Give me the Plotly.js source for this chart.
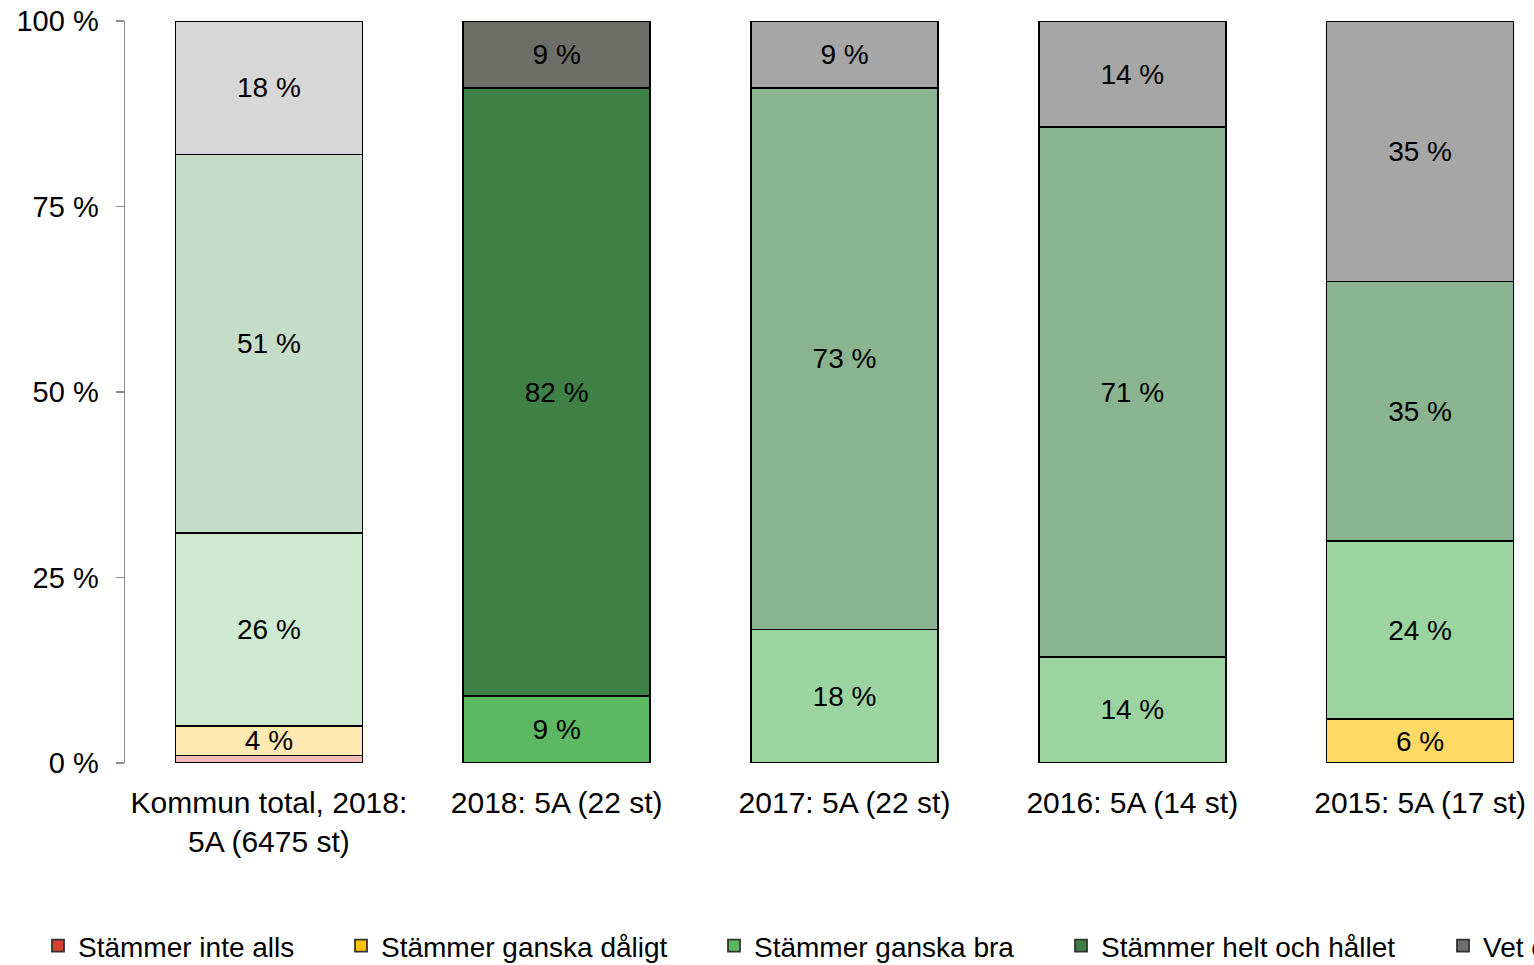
<!DOCTYPE html>
<html>
<head>
<meta charset="utf-8">
<script src="https://cdn.plot.ly/plotly-3.0.1.min.js"></script>
<style>
  html, body { margin: 0; padding: 0; overflow: hidden; background: #fff; }
  #chart { width: 1570px; height: 965px; }
</style>
</head>
<body>
<div id="chart"></div>
<script>
// Categories (x-axis)
const categories = ['Kommun total, 2018:<br>5A (6475 st)', '2018: 5A (22 st)', '2017: 5A (22 st)', '2016: 5A (14 st)', '2015: 5A (17 st)'];

// Series names
const seriesNames = ['Stämmer inte alls', 'Stämmer ganska dåligt', 'Stämmer ganska bra', 'Stämmer helt och hållet', 'Vet ej'];

// Series values (percent), null = no segment
const inteAlls     = [1,    null, null, null, null];
const ganskaDaligt = [4,    null, null, null, 5.9];
const ganskaBra    = [26,   9,    18,   14.3, 24];
const heltHallet   = [51,   82,   73,   71.4, 35];
const vetEj        = [18,   9,    9,    14.3, 35.1];

// Y-axis ticks
const yTickVals = [0, 25, 50, 75, 100];
const yTickText = ['0 %', '25 %', '50 %', '75 %', '100 %'];

// Per-bar segment colours
const inteAllsColors     = ['#f2bab6', '#f2bab6', '#f2bab6', '#f2bab6', '#f2bab6'];
const ganskaDaligtColors = ['#ffe9b3', '#ffd966', '#ffd966', '#ffd966', '#ffd966'];
const ganskaBraColors    = ['#cdead1', '#5cb962', '#9cd4a1', '#9cd4a1', '#9cd4a1'];
const heltHalletColors   = ['#c5dcc8', '#3e8046', '#8ab38f', '#8ab38f', '#8ab38f'];
const vetEjColors        = ['#d7d7d7', '#6d6e67', '#a6a6a6', '#a6a6a6', '#a6a6a6'];

// Legend swatch colours
const legendColors = ['#d8422c', '#ffc000', '#5cb85f', '#3e7d45', '#6e6e6e'];

const seriesValues = [inteAlls, ganskaDaligt, ganskaBra, heltHallet, vetEj];
const seriesColors = [inteAllsColors, ganskaDaligtColors, ganskaBraColors, heltHalletColors, vetEjColors];

const FONT = '"Liberation Sans", Arial, sans-serif';
const W = 1570, H = 965;

function labels(vals) {
  return vals.map(v => (v === null || v < 2) ? '' : Math.round(v) + ' %');
}

const traces = [];
seriesValues.forEach((vals, i) => {
  traces.push({
    type: 'bar',
    name: seriesNames[i],
    x: categories,
    y: vals,
    text: labels(vals),
    textposition: 'inside',
    insidetextanchor: 'middle',
    textangle: 0,
    constraintext: 'none',
    textfont: { family: FONT, size: 28, color: '#000' },
    marker: { color: seriesColors[i], line: { color: '#000', width: 1.6 } },
    showlegend: false,
    hoverinfo: 'skip'
  });
});

// Legend-only entries (one legend per entry to place them like the original)
const legendLeftPx = [38, 341, 714, 1061, 1443];
const legendIds = ['legend', 'legend2', 'legend3', 'legend4', 'legend5'];
seriesNames.forEach((name, i) => {
  traces.push({
    type: 'bar',
    name: name,
    x: [null],
    y: [null],
    marker: { color: legendColors[i], line: { color: '#333', width: 1.8 } },
    showlegend: true,
    legend: legendIds[i],
    hoverinfo: 'skip'
  });
});

const layout = {
  width: W,
  height: H,
  margin: { l: 125, r: 6, t: 21, b: 202 },
  barmode: 'stack',
  bargap: 0.35,
  paper_bgcolor: '#fff',
  plot_bgcolor: '#fff',
  font: { family: FONT, size: 28, color: '#000' },
  xaxis: {
    type: 'category',
    showline: false,
    showgrid: false,
    zeroline: false,
    ticks: '',
    ticklabelstandoff: 19,
    tickfont: { family: FONT, size: 30, color: '#000' },
    fixedrange: true
  },
  yaxis: {
    range: [0, 100],
    tickmode: 'array',
    tickvals: yTickVals,
    ticktext: yTickText,
    showline: true,
    linecolor: '#8c8c8c',
    linewidth: 1.5,
    ticks: 'outside',
    ticklen: 8,
    tickcolor: '#8c8c8c',
    tickwidth: 1.5,
    showgrid: false,
    zeroline: false,
    ticklabelstandoff: 11,
    tickfont: { family: FONT, size: 29, color: '#000' },
    fixedrange: true
  }
};

legendIds.forEach((id, i) => {
  layout[id] = {
    xref: 'container',
    yref: 'container',
    x: legendLeftPx[i] / W,
    xanchor: 'left',
    y: (H - 946) / H,
    yanchor: 'middle',
    orientation: 'h',
    bgcolor: 'rgba(0,0,0,0)',
    font: { family: FONT, size: 28, color: '#000' },
    itemwidth: 30
  };
});

Plotly.newPlot('chart', traces, layout, { displayModeBar: false, staticPlot: true });
</script>
</body>
</html>
